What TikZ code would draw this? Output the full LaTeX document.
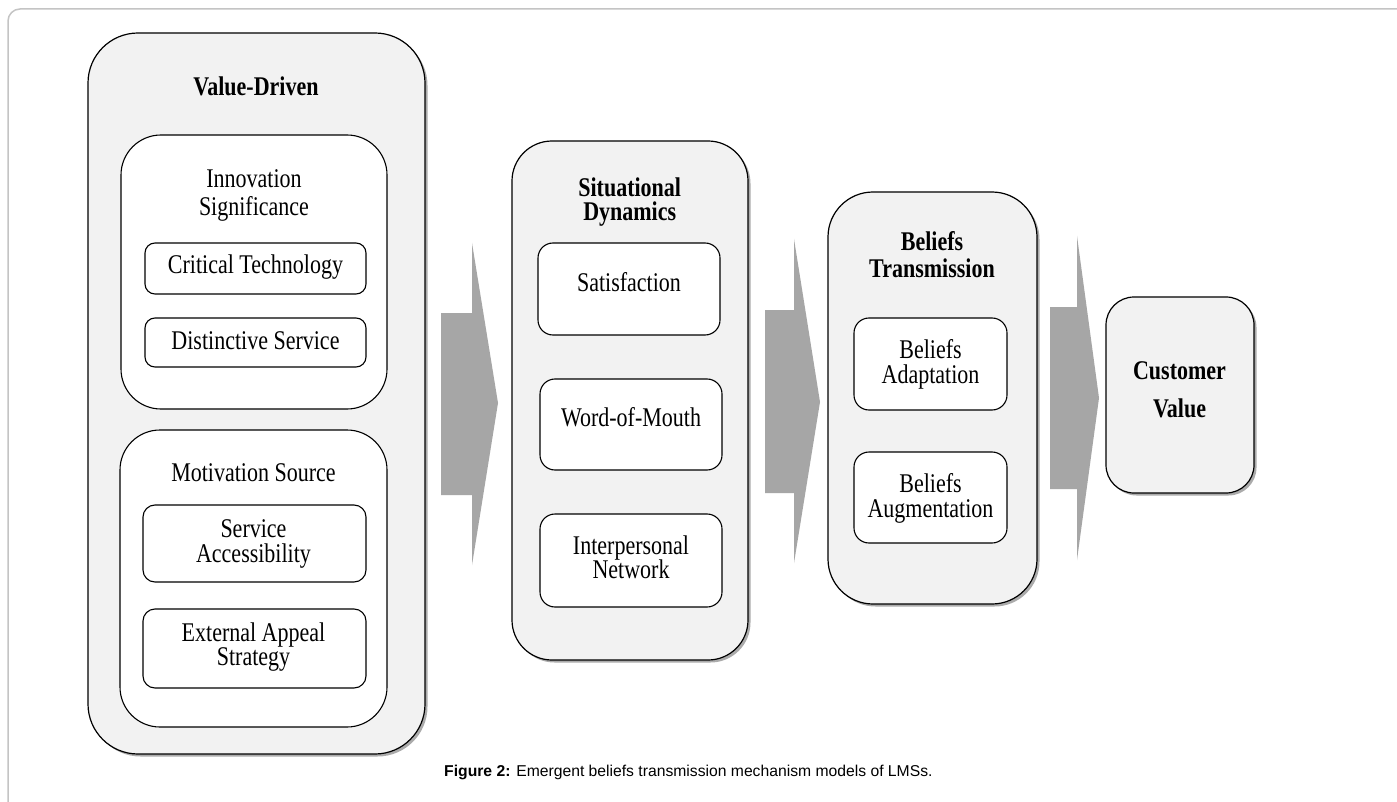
\documentclass[tikz,border=0pt]{standalone}
\usepackage{fontspec}
\setmainfont{Liberation Serif}[FakeStretch=0.815]
\newfontfamily\capfont{Liberation Sans}
\usetikzlibrary{shadows}
\definecolor{boxgray}{HTML}{F2F2F2}
\definecolor{arrowgray}{HTML}{A6A6A6}
\definecolor{framegray}{HTML}{C4C4C4}
\tikzset{
  outerbox/.style={draw, line width=1.2pt, fill=boxgray, rounded corners=#1, inner sep=0pt,
    drop shadow={shadow xshift=2.5pt, shadow yshift=-2.5pt, fill=black!60, opacity=0.55}},
  innerbox/.style={draw, line width=1.1pt, fill=white, rounded corners=#1, inner sep=0pt},
  lbl/.style={anchor=base, inner sep=0pt, font=\fontsize{27}{27}\selectfont},
  ttl/.style={anchor=base, inner sep=0pt, font=\fontsize{27}{27}\selectfont\bfseries},
  blockarrow/.style={fill=arrowgray, draw=none},
  framel/.style={draw=framegray, line width=1.5pt, rounded corners=12pt}
}
\begin{document}
\begin{tikzpicture}[x=1pt,y=-1pt]
\useasboundingbox (0,0) rectangle (1397,802);
\fill[white] (0,0) rectangle (1397,802);
\draw[framel] (8,810) -- (8,9) -- (1405,9);

% block arrows
\path[blockarrow] (441,313) -- (472,313) -- (472,243) -- (498,403) -- (472,565) -- (472,495) -- (441,495) -- cycle;
\path[blockarrow] (765,310) -- (794,310) -- (794,239) -- (820,402) -- (794,563) -- (794,493) -- (765,493) -- cycle;
\path[blockarrow] (1050,307) -- (1077,307) -- (1077,236) -- (1099,398) -- (1077,560) -- (1077,489) -- (1050,489) -- cycle;

% Value-Driven
\node[outerbox=50pt, minimum width=337pt, minimum height=721pt] (vd) at (256.5,393.5) {};
\node[ttl] (vdt) at (256,96) {Value-Driven};
\node[innerbox=40pt, minimum width=266pt, minimum height=274pt] (is) at (254,272) {};
\node[lbl] (ist1) at (254,188) {Innovation};
\node[lbl] (ist2) at (254,216) {Significance};
\node[innerbox=10pt, minimum width=221pt, minimum height=51pt] (ct) at (255.5,268.5) {};
\node[lbl] (ctt) at (255.5,273) {Critical Technology};
\node[innerbox=10pt, minimum width=221pt, minimum height=49pt] (ds) at (255.5,342.5) {};
\node[lbl] (dst) at (255.5,349) {Distinctive Service};
\node[innerbox=40pt, minimum width=267pt, minimum height=297pt] (ms) at (253.5,578.5) {};
\node[lbl] (mst) at (253.5,481) {Motivation Source};
\node[innerbox=12pt, minimum width=223pt, minimum height=77pt] (sa) at (254.5,543.5) {};
\node[lbl] (sat1) at (253.5,537) {Service};
\node[lbl] (sat2) at (253.5,562) {Accessibility};
\node[innerbox=12pt, minimum width=223pt, minimum height=79pt] (ea) at (254.5,648.5) {};
\node[lbl] (eat1) at (253.5,641) {External Appeal};
\node[lbl] (eat2) at (253.5,665) {Strategy};

% Situational Dynamics
\node[outerbox=40pt, minimum width=236pt, minimum height=519pt] (sd) at (630,400.5) {};
\node[ttl] (sdt1) at (629.7,197) {Situational};
\node[ttl] (sdt2) at (629.7,221) {Dynamics};
\node[innerbox=15pt, minimum width=182pt, minimum height=92pt] (sf) at (629,289) {};
\node[lbl] (sft) at (629,291) {Satisfaction};
\node[innerbox=15pt, minimum width=182pt, minimum height=91pt] (wm) at (631,424.5) {};
\node[lbl] (wmt) at (631,426) {Word-of-Mouth};
\node[innerbox=15pt, minimum width=182pt, minimum height=93pt] (ip) at (631,560.5) {};
\node[lbl] (ipt1) at (631,554) {Interpersonal};
\node[lbl] (ipt2) at (631,578) {Network};

% Beliefs Transmission
\node[outerbox=45pt, minimum width=209pt, minimum height=412pt] (bt) at (932.5,398) {};
\node[ttl] (btt1) at (932,251) {Beliefs};
\node[ttl] (btt2) at (932,277) {Transmission};
\node[innerbox=15pt, minimum width=153pt, minimum height=92pt] (ba) at (930.5,364) {};
\node[lbl] (bat1) at (930.5,358) {Beliefs};
\node[lbl] (bat2) at (930.5,383) {Adaptation};
\node[innerbox=15pt, minimum width=153pt, minimum height=91pt] (bg) at (930.5,497.5) {};
\node[lbl] (bgt1) at (930.5,492) {Beliefs};
\node[lbl] (bgt2) at (930.5,517) {Augmentation};

% Customer Value
\node[outerbox=28pt, minimum width=148pt, minimum height=196pt] (cv) at (1180,395) {};
\node[ttl] (cvt1) at (1179.5,379) {Customer};
\node[ttl] (cvt2) at (1179.5,417) {Value};

% caption
\node[anchor=base west, inner sep=0pt, font=\capfont\fontsize{15.7}{15.7}\selectfont] (cap) at (444,776) {\textbf{Figure 2:} Emergent beliefs transmission mechanism models of LMSs.};
\end{tikzpicture}
\end{document}
